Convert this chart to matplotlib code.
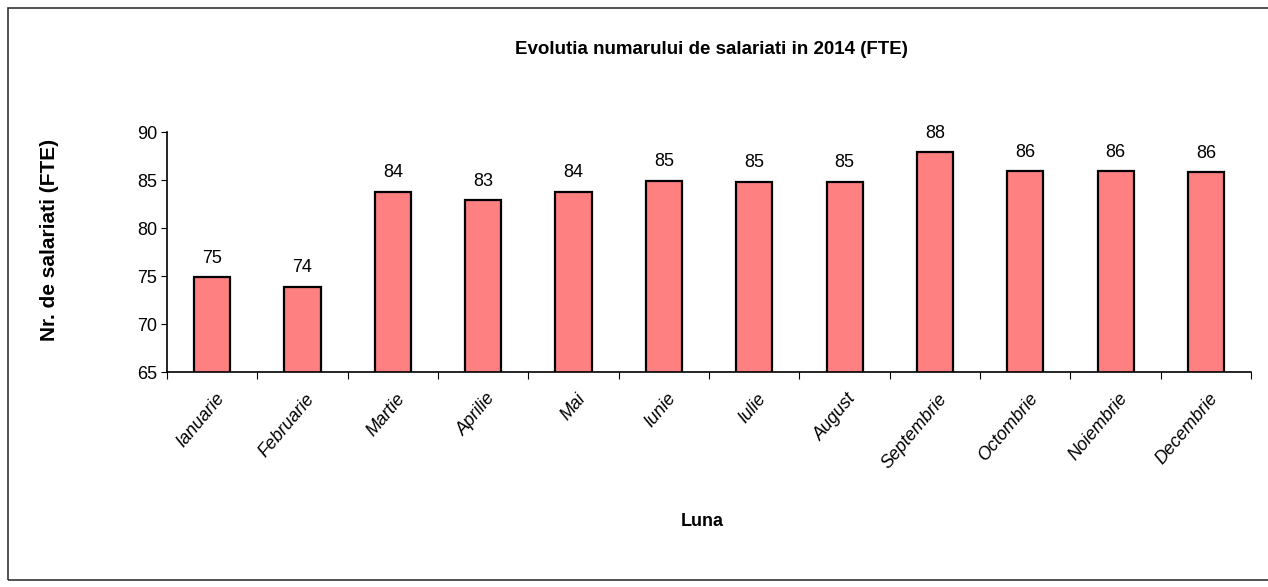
import matplotlib
matplotlib.use("Agg")
import matplotlib.pyplot as plt
from matplotlib.patches import Rectangle

luni = ["Ianuarie", "Februarie", "Martie", "Aprilie", "Mai", "Iunie", "Iulie",
        "August", "Septembrie", "Octombrie", "Noiembrie", "Decembrie"]
salariati = [74.9, 73.9, 83.8, 82.9, 83.8, 84.9, 84.8, 84.8, 87.9, 85.9, 85.9, 85.8]
etichete = ["75", "74", "84", "83", "84", "85", "85", "85", "88", "86", "86", "86"]

plt.rcParams['font.family'] = ['Liberation Sans', 'DejaVu Sans']

fig = plt.figure(figsize=(12.68, 5.87), dpi=100)
ax = fig.add_axes([0.1317, 0.366, 0.855, 0.409])

x = range(len(luni))
ax.bar(x, salariati, width=0.4, bottom=0, color="#ff8080",
       edgecolor="black", linewidth=1.6)
ax.set_ylim(65, 90)
ax.set_xlim(-0.5, len(luni) - 0.5)

for xi, v, t in zip(x, salariati, etichete):
    ax.text(xi, v + 1.1, t, ha="center", va="bottom", fontsize=13)

ax.set_yticks([65, 70, 75, 80, 85, 90])
ax.tick_params(axis="y", labelsize=13, direction="out", length=4, pad=3)
ax.set_xticks([i - 0.5 for i in range(len(luni) + 1)])
ax.set_xticklabels([])
ax.tick_params(axis="x", direction="out", length=5)
for xi, name in zip(x, luni):
    ax.annotate(name, xy=(xi, 65), xycoords="data", xytext=(2, -13),
                textcoords="offset points", ha="right", va="top",
                rotation=50, rotation_mode="anchor", fontsize=13, style="italic")

ax.spines["top"].set_visible(False)
ax.spines["right"].set_visible(False)
ax.spines["left"].set_linewidth(1.2)
ax.spines["bottom"].set_linewidth(1.2)

fig.text(0.561, 0.915, "Evolutia numarului de salariati in 2014 (FTE)",
         ha="center", va="center", fontsize=13.5, fontweight="bold")
fig.text(0.039, 0.591, "Nr. de salariati (FTE)", ha="center", va="center",
         rotation=90, fontsize=15, fontweight="bold")
fig.text(0.554, 0.111, "Luna", ha="center", va="center", fontsize=13, fontweight="bold")

fig.patches.append(Rectangle((0.006, 0.012), 1.2, 0.975, transform=fig.transFigure,
                             fill=False, edgecolor="#333333", linewidth=1.2))

plt.savefig("out.png", dpi=100)
plt.close()
